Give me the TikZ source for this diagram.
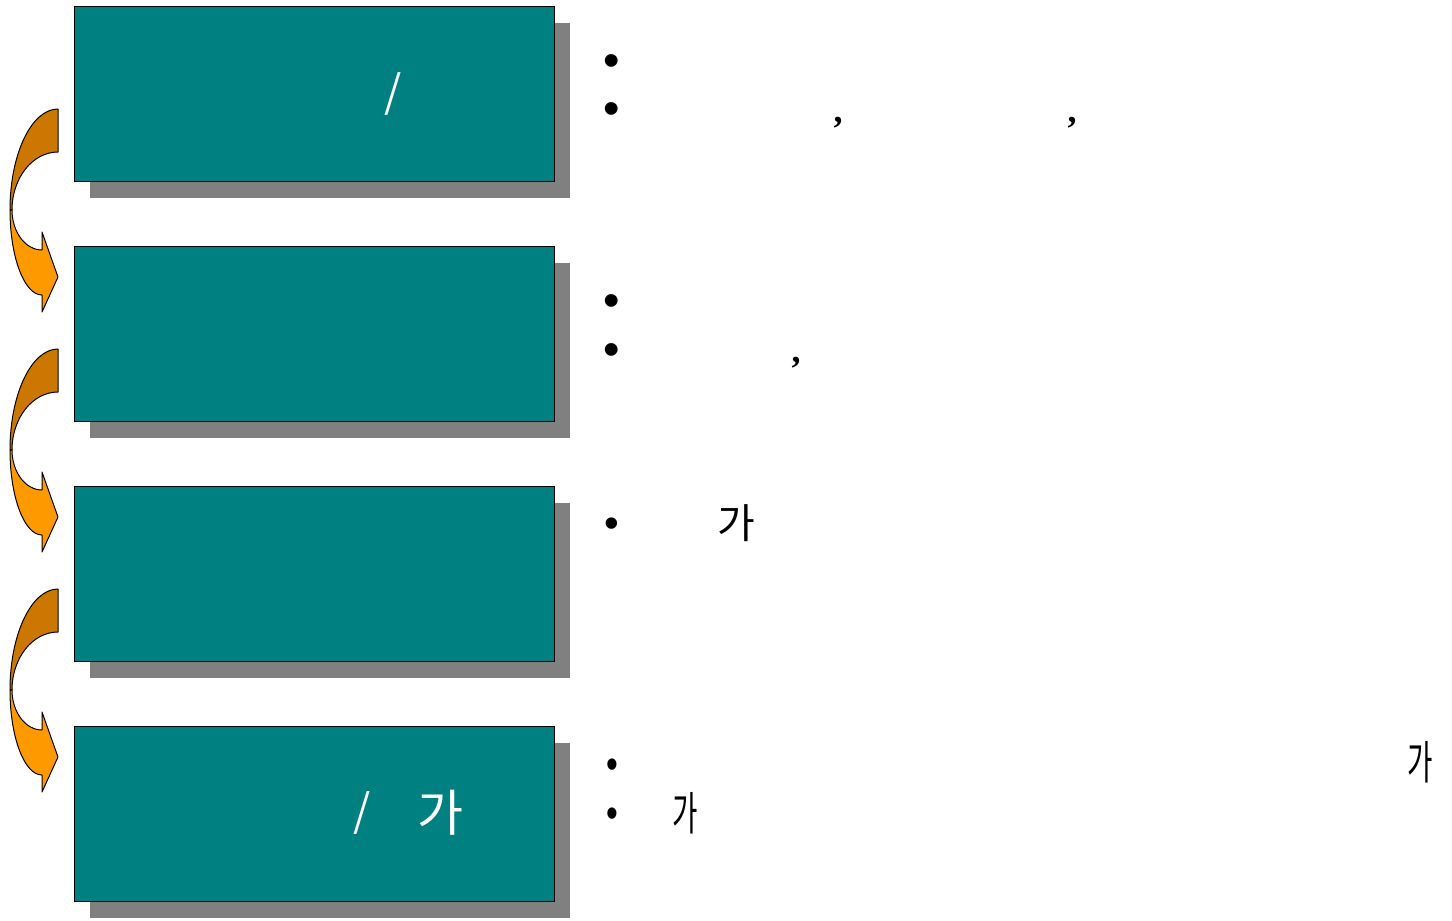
\documentclass[tikz,border=0pt]{standalone}
\usepackage{fontspec}
\setmainfont{Liberation Sans}
\newfontfamily\kr{Noto Sans CJK KR}
\newfontfamily\serifcomma{Liberation Serif}
\usepackage{xcolor}
\usepackage{tikz}
\usetikzlibrary{shadows}
\definecolor{Teal}{HTML}{008080}
\definecolor{Shade}{HTML}{808080}
\definecolor{OrangeDark}{HTML}{CC7700}
\definecolor{OrangeLight}{HTML}{FF9900}
\tikzset{
  stage/.style={
    draw=black, line width=1pt, fill=Teal,
    minimum width=480pt, minimum height=175pt,
    inner sep=0pt, outer sep=0pt,
    general shadow={fill=Shade, shadow xshift=16pt, shadow yshift=-17pt}
  },
  boxtext/.style={text=white, font=\kr\fontsize{44}{48}\selectfont, inner sep=0pt},
  bullet/.style={font=\fontsize{47}{50}\selectfont, inner sep=0pt, text height=20pt, text depth=0pt},
  bulletsmall/.style={bullet, font=\fontsize{42}{45}\selectfont},
  sidetext/.style={font=\kr\fontsize{41}{45}\selectfont, inner sep=0pt},
  commatext/.style={font=\serifcomma\bfseries\fontsize{36}{40}\selectfont, inner sep=0pt},
  bandback/.style={fill=OrangeDark, draw=black, line width=1pt, line join=round},
  bandfront/.style={fill=OrangeLight, draw=black, line width=1pt, line join=round}
}
\begin{document}
\begin{tikzpicture}[x=1pt,y=-1pt]
  \useasboundingbox (0,0) rectangle (1452,921);
  % curved arrows between the stages
  \foreach \k in {0,1,2}{
    \begin{scope}[shift={(0,240*\k)}]
      \path[bandback] (58,109) -- (58,152) .. controls (32.6,152) and (12,178) .. (12,210)
        -- (10,210) .. controls (10,154) and (31.5,109) .. (58,109) -- cycle;
      \path[bandfront] (10,210) .. controls (10,257) and (24.3,295) .. (42,295)
        -- (42,312) -- (58,277) -- (42,232) -- (42,250)
        .. controls (25.4,250) and (12,232) .. (12,210) -- cycle;
    \end{scope}
  }
  % stages
  \node[stage] (s1) at (314,93.5) {};
  \node[stage] (s2) at (314,333.5) {};
  \node[stage] (s3) at (314,573.5) {};
  \node[stage] (s4) at (314,813.5) {};
  \node[boxtext] (s1a) at (393,94) {/};
  \node[boxtext] (s4a) at (362,813) {/};
  \node[boxtext,font=\kr\fontsize{50}{54}\selectfont] (s4b) at (440,813) {가};
  % notes
  \node[bullet] (n1a) at (612,66) {•};
  \node[bullet] (n1b) at (612,114) {•};
  \node[commatext] (c1a) at (838,123) {,};
  \node[commatext] (c1b) at (1072,123) {,};
  \node[bullet] (n2a) at (612,306) {•};
  \node[bullet] (n2b) at (612,355) {•};
  \node[commatext] (c2a) at (796,363) {,};
  \node[bulletsmall] (n3a) at (612,527) {•};
  \node[sidetext] (t3a) at (736,523) {가};
  \node[bulletsmall,xscale=0.8,transform shape] (n4a) at (612,768) {•};
  \node[bulletsmall,xscale=0.8,transform shape] (n4b) at (612,817) {•};
  \node[sidetext,font=\kr\fontsize{46}{50}\selectfont,xscale=0.6,transform shape] (t4a) at (1420,762) {가};
  \node[sidetext,font=\kr\fontsize{46}{50}\selectfont,xscale=0.6,transform shape] (t4b) at (685,813) {가};
\end{tikzpicture}
\end{document}
